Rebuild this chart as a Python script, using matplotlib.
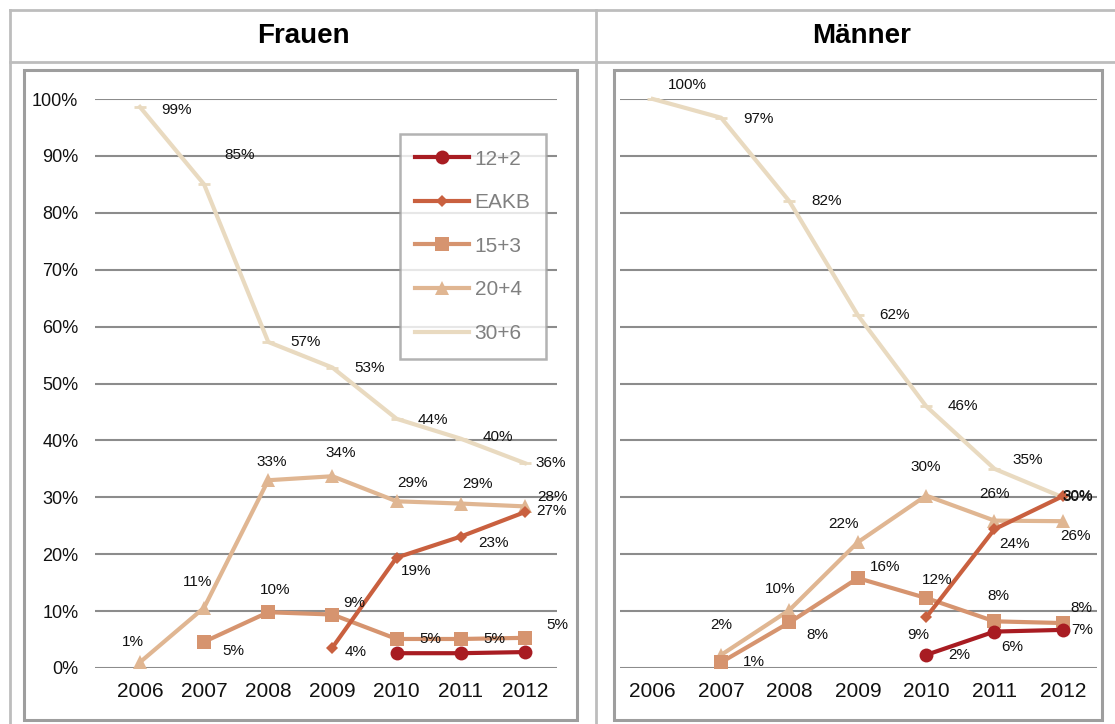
import matplotlib
matplotlib.use("Agg")
import matplotlib.pyplot as plt
from matplotlib.lines import Line2D
from matplotlib.patches import Rectangle
import numpy as np

plt.rcParams['font.family'] = ['Liberation Sans', 'DejaVu Sans']

years = ['2006', '2007', '2008', '2009', '2010', '2011', '2012']
series_names = ['12+2', 'EAKB', '15+3', '20+4', '30+6']

# Frauen (None = no value)
f_12_2 = [None, None, None, None, 2.6, 2.6, 2.8]
f_eakb = [None, None, None, 3.6, 19.4, 23.1, 27.4]
f_15_3 = [None, 4.6, 9.8, 9.4, 5.1, 5.1, 5.3]
f_20_4 = [1.0, 10.6, 33.0, 33.7, 29.3, 28.9, 28.4]
f_30_6 = [98.6, 85.0, 57.3, 52.8, 43.8, 40.3, 36.0]

# Maenner
m_12_2 = [None, None, None, None, 2.3, 6.4, 6.7]
m_eakb = [None, None, None, None, 8.9, 24.4, 30.2]
m_15_3 = [None, 1.0, 8.0, 15.8, 12.3, 8.2, 7.9]
m_20_4 = [None, 2.3, 10.2, 22.1, 30.3, 25.9, 25.8]
m_30_6 = [100.0, 96.7, 82.0, 62.0, 46.0, 35.0, 30.0]

colors = ['#A81C22', '#C9603F', '#D6946F', '#E0B692', '#E9DAC0']
markers = ['o', 'D', 's', '^', '_']
msizes = [10, 6.5, 10, 10, 8]

# label offsets in pixels (dx, dy), None = no label
f_offs = [
    None,
    [None, None, None, (23, -4), (20, -13), (33, -6), (27, 1)],
    [None, (29, -9), (7, 22), (22, 12), (34, 0), (34, 0), (32, 13)],
    [(-7, 20), (-7, 26), (3, 18), (8, 23), (16, 18), (17, 20), (28, 9)],
    [(37, -3), (36, 29), (37, 0), (37, 0), (36, -1), (37, 2), (26, 0)],
]
m_offs = [
    [None, None, None, None, (33, 0), (18, -15), (19, 0)],
    [None, None, None, None, (-8, -18), (20, -15), (15, 0)],
    [None, (33, 0), (28, -13), (27, 11), (11, 18), (4, 25), (19, 15)],
    [None, (0, 30), (-9, 21), (-14, 18), (0, 29), (0, 27), (13, -15)],
    [(35, 14), (37, -1), (37, 0), (37, 0), (37, 0), (33, 9), (15, 0)],
]

W, H = 1115, 724
fig = plt.figure(figsize=(W / 100, H / 100), dpi=100)


def fx(px):
    return px / W


def fy(py):
    return 1 - py / H


# table lines
tc = '#BDBDBD'
for y in (10, 62):
    fig.add_artist(Line2D([fx(10), 1], [fy(y), fy(y)], color=tc, lw=2))
fig.add_artist(Line2D([fx(10), fx(10)], [fy(10), 0], color=tc, lw=2))
fig.add_artist(Line2D([fx(596), fx(596)], [fy(10), 0], color=tc, lw=2))

fig.text(fx(303), fy(36), 'Frauen', ha='center', va='center', fontsize=20, fontweight='bold')
fig.text(fx(862), fy(36), 'Männer', ha='center', va='center', fontsize=20, fontweight='bold')

# chart boxes
for x0, x1 in ((24, 577), (614, 1102)):
    fig.add_artist(Rectangle((fx(x0), fy(720)), fx(x1 - x0), (720 - 70) / H,
                             fill=False, ec='#9E9E9E', lw=2.2))


def draw(ax, data, offs, xlim, show_y):
    x = np.arange(len(years))
    for i, vals in enumerate(data):
        xs = [x[j] for j, v in enumerate(vals) if v is not None]
        ys = [v / 100 for v in vals if v is not None]
        ax.plot(xs, ys, color=colors[i], lw=3, marker=markers[i], ms=msizes[i],
                mew=2 if markers[i] == '_' else 0, mec=colors[i],
                label=series_names[i], zorder=3 + (5 - i), clip_on=False)
        if offs[i] is None:
            continue
        for j, v in enumerate(vals):
            if v is None or offs[i][j] is None:
                continue
            ax.annotate(f"{v:.0f}%", (x[j], v / 100), xytext=offs[i][j],
                        textcoords='offset pixels', ha='center', va='center',
                        fontsize=11, color='#111111', zorder=20)
    ax.set_xlim(*xlim)
    ax.set_ylim(0, 1)
    ax.set_xticks(x)
    ax.set_xticklabels(years)
    ax.set_yticks(np.arange(0, 1.01, 0.1))
    ax.set_yticklabels([f"{int(round(t * 100))}%" for t in np.arange(0, 1.01, 0.1)])
    ax.grid(axis='y', color='#8C8C8C', lw=1.5)
    ax.set_axisbelow(True)
    for s in ax.spines.values():
        s.set_visible(False)
    ax.tick_params(length=0, colors='#111111')
    ax.tick_params(axis='x', pad=10, labelsize=15)
    ax.tick_params(axis='y', pad=12, labelsize=13)
    if not show_y:
        ax.set_yticklabels([])


axb = fy(668)
axh = (668 - 99) / H
ax1 = fig.add_axes([fx(95), axb, fx(557 - 95), axh])
ax1.patch.set_alpha(0)
draw(ax1, [f_12_2, f_eakb, f_15_3, f_20_4, f_30_6], f_offs, (-0.70, 6.5), True)

ax2 = fig.add_axes([fx(620), axb, fx(1097 - 620), axh])
ax2.patch.set_alpha(0)
draw(ax2, [m_12_2, m_eakb, m_15_3, m_20_4, m_30_6], m_offs, (-0.48, 6.5), False)

leg = ax1.legend(loc='upper right', bbox_to_anchor=((546 - 95) / 462, (668 - 134) / 569),
                 borderaxespad=0, fontsize=15, frameon=True, fancybox=False,
                 handlelength=2.6, numpoints=1, labelspacing=1.18,
                 borderpad=0.75, handletextpad=0.25)
leg.get_frame().set_edgecolor('#A0A0A0')
leg.get_frame().set_linewidth(1.8)
for t in leg.get_texts():
    t.set_color('#808080')
leg.set_zorder(30)

fig.savefig('out.png', dpi=100)
